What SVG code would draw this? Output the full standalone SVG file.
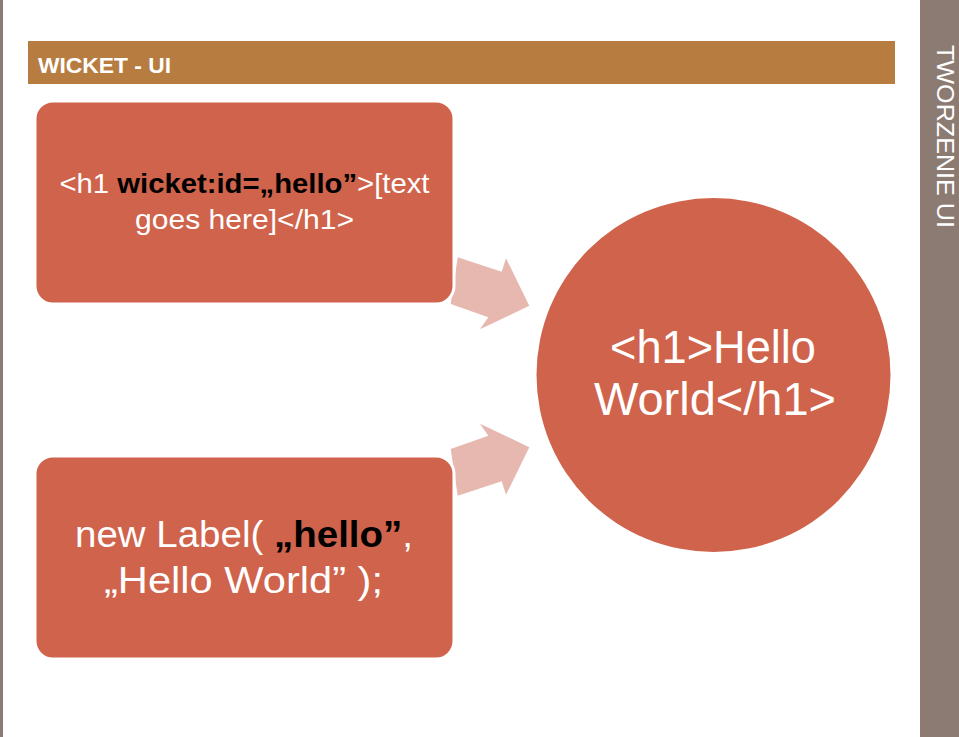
<svg xmlns="http://www.w3.org/2000/svg" width="959" height="737" viewBox="0 0 959 737">
<style>
.box{fill:#D0634B;stroke:#ffffff;stroke-width:3}
.arrow{fill:#E6B8AF}
.t{font-family:"Liberation Sans",Arial,sans-serif;fill:#ffffff;text-anchor:middle}
.b{font-weight:bold;fill:#000000}
</style>
<rect x="0" y="0" width="959" height="737" fill="#ffffff"/>
<rect x="0" y="0" width="3" height="737" fill="#8B7B72"/>
<rect x="920" y="0" width="39" height="737" fill="#8B7B72"/>
<text x="937" y="45" transform="rotate(90 937 45)" font-family="Liberation Sans, Arial, sans-serif" font-size="24" fill="#ffffff" textLength="183" lengthAdjust="spacingAndGlyphs">TWORZENIE UI</text>
<g id="title">
<rect x="28" y="41" width="867" height="43" fill="#B77D40"/>
<text x="38" y="73" font-family="Liberation Sans, Arial, sans-serif" font-size="22" font-weight="bold" fill="#ffffff" textLength="133" lengthAdjust="spacingAndGlyphs">WICKET - UI</text>
</g>
<g id="connectors">
<polygon class="arrow" points="457.7,257.3 501.7,271.7 506,258.3 529.3,305.7 480,329.3 488.3,317.3 450.7,304"/>
<polygon class="arrow" points="457.7,495.7 501.7,481.3 506,494.7 529.3,447.3 480,423.7 488.3,435.7 450.7,449"/>
</g>
<g id="template">
<rect class="box" x="35" y="101" width="419" height="203" rx="18"/>
<text class="t" x="244.5" y="193" font-size="28" textLength="370" lengthAdjust="spacingAndGlyphs">&lt;h1 <tspan class="b">wicket:id=„hello”</tspan>&gt;[text</text>
<text class="t" x="244.5" y="229" font-size="28" textLength="219" lengthAdjust="spacingAndGlyphs">goes here]&lt;/h1&gt;</text>
</g>
<g id="label">
<rect class="box" x="35" y="456" width="419" height="203" rx="18"/>
<text class="t" x="244" y="547" font-size="37" textLength="338" lengthAdjust="spacingAndGlyphs">new Label( <tspan class="b">„hello”</tspan>,</text>
<text class="t" x="243.5" y="593" font-size="37" textLength="279" lengthAdjust="spacingAndGlyphs">„Hello World” );</text>
</g>
<g id="result">
<circle cx="713.5" cy="375" r="177" fill="#D0634B"/>
<text class="t" x="713" y="363" font-size="46" textLength="206" lengthAdjust="spacingAndGlyphs">&lt;h1&gt;Hello</text>
<text class="t" x="715" y="415" font-size="46" textLength="242" lengthAdjust="spacingAndGlyphs">World&lt;/h1&gt;</text>
</g>
</svg>
